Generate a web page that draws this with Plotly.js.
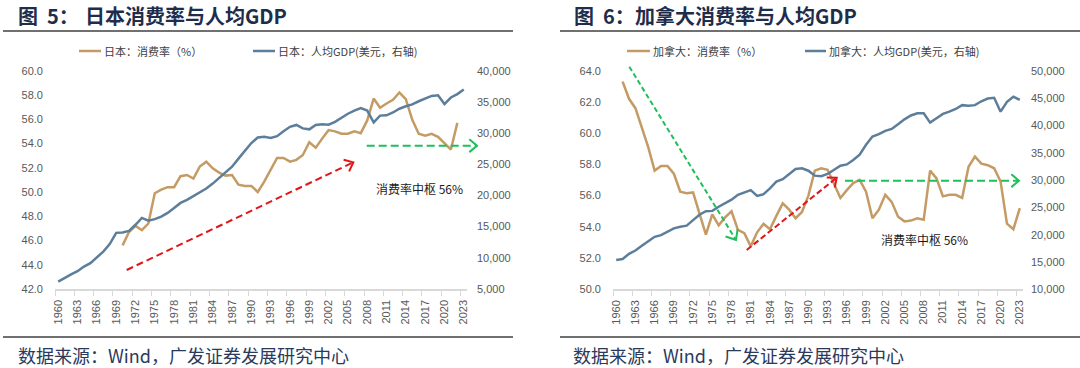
<!DOCTYPE html>
<html><head><meta charset="utf-8">
<script src="https://cdn.plot.ly/plotly-3.0.1.min.js"></script>
<style>html,body{margin:0;padding:0;background:#fff}#chart{width:1080px;height:368px}</style>
</head><body><div id="chart"></div>
<script>
// ---------- data ----------
const years = [1960,1961,1962,1963,1964,1965,1966,1967,1968,1969,1970,1971,1972,1973,1974,1975,1976,1977,1978,1979,1980,1981,1982,1983,1984,1985,1986,1987,1988,1989,1990,1991,1992,1993,1994,1995,1996,1997,1998,1999,2000,2001,2002,2003,2004,2005,2006,2007,2008,2009,2010,2011,2012,2013,2014,2015,2016,2017,2018,2019,2020,2021,2022,2023];
const tickYears = [1960,1963,1966,1969,1972,1975,1978,1981,1984,1987,1990,1993,1996,1999,2002,2005,2008,2011,2014,2017,2020,2023];
const tickBounds = [1959.5,1962.5,1965.5,1968.5,1971.5,1974.5,1977.5,1980.5,1983.5,1986.5,1989.5,1992.5,1995.5,1998.5,2001.5,2004.5,2007.5,2010.5,2013.5,2016.5,2019.5,2022.5];

// Japan: consumption rate (%), left axis
const jpRate = [null,null,null,null,null,null,null,null,null,null,
  45.6,46.7,47.2,46.85,47.4,49.9,50.2,50.4,50.4,51.3,
  51.4,51.1,52.1,52.5,51.95,51.6,51.35,51.4,50.6,50.5,
  50.5,50.0,50.85,51.8,52.8,52.8,52.5,52.65,53.05,54.1,
  53.65,54.4,55.1,55.0,54.8,54.8,55.0,54.85,55.9,57.7,
  56.95,57.3,57.6,58.2,57.65,55.95,54.8,54.65,54.8,54.55,
  54.0,53.5,55.7,null];
// Japan: GDP per capita (USD), right axis
const jpGdp = [6180,6800,7350,7850,8600,9150,10050,11000,12200,14000,
  14050,14300,15300,16400,15950,16200,16600,17200,18000,18800,
  19300,19900,20500,21100,21900,22800,23600,24600,25900,27100,
  28400,29300,29400,29200,29500,30300,31000,31300,30750,30600,
  31300,31400,31350,31800,32500,33100,33600,34000,33600,31700,
  32800,32850,33300,33900,34300,34600,35100,35500,35950,36050,
  34650,35700,36250,37000];

// Canada: consumption rate (%), left axis
const caRate = [null,
  63.3,62.2,61.6,60.3,59.1,57.6,57.9,57.9,57.4,
  56.25,56.15,56.2,54.85,53.5,54.8,54.1,54.6,55.0,53.8,
  53.6,52.75,53.65,54.2,53.85,54.7,55.5,55.1,54.55,54.95,
  56.0,57.6,57.75,57.65,56.7,55.85,56.35,56.8,57.0,56.25,
  54.55,55.1,56.05,55.6,54.65,54.35,54.4,54.55,54.45,57.6,
  57.1,55.95,56.05,56.05,55.85,57.85,58.5,58.05,57.95,57.75,
  56.9,54.2,53.85,55.2];
// Canada: GDP per capita (USD), right axis
const caGdp = [15350,15550,16500,17100,17950,18800,19600,19900,20450,21150,
  21450,21650,22650,23650,24300,24350,25100,25800,26400,27300,
  27700,28150,27100,27400,28450,29700,30150,31000,32000,32150,
  31700,30800,30700,31100,31900,32600,32850,33650,34650,36450,
  37950,38400,39000,39350,40200,41100,41800,42200,42200,40500,
  41300,42100,42500,43000,43700,43600,43700,44400,44900,45050,
  42500,44300,45250,44650];

const jpRateName = '日本：消费率（%）';
const jpGdpName = '日本：人均GDP(美元，右轴)';
const caRateName = '加拿大：消费率（%）';
const caGdpName = '加拿大：人均GDP(美元，右轴)';

// ---------- style ----------
const W = 1080, H = 368;
const P = x => x / W, Q = y => 1 - y / H;
const TAN = '#c49b64', BLUE = '#5d7e9b', RED = '#e0161b', GREEN = '#1fbf5a';
const NAVY = '#1f2d4a';
const CJK = 'Noto Sans CJK SC, sans-serif';
const NUM = 'Liberation Sans, Arial, sans-serif';
const tickFont = {family: NUM, size: 11, color: '#595959'};

const traces = [
  {x: years, y: jpRate, xaxis: 'x', yaxis: 'y', type: 'scatter', mode: 'lines', name: jpRateName,
   line: {color: TAN, width: 2.5}, connectgaps: false},
  {x: years, y: jpGdp, xaxis: 'x', yaxis: 'y2', type: 'scatter', mode: 'lines', name: jpGdpName,
   line: {color: BLUE, width: 2.5}},
  {x: years, y: caRate, xaxis: 'x2', yaxis: 'y3', type: 'scatter', mode: 'lines', name: caRateName,
   line: {color: TAN, width: 2.5}},
  {x: years, y: caGdp, xaxis: 'x2', yaxis: 'y4', type: 'scatter', mode: 'lines', name: caGdpName,
   line: {color: BLUE, width: 2.5}}
];

function xAxis(d0, d1, anchor) {
  return {domain: [P(d0), P(d1)], anchor: anchor, range: [1959.5, 2023.5], fixedrange: true,
    tickmode: 'array', tickvals: tickYears, ticktext: tickYears.map(String), tickangle: -90,
    ticks: '', showline: true, linecolor: '#d9d9d9', linewidth: 1.5, showgrid: false, zeroline: false,
    tickfont: tickFont, ticklabelstandoff: 5,
    minor: {tickmode: 'array', tickvals: tickBounds, ticks: 'outside', ticklen: 5, tickcolor: '#d9d9d9', tickwidth: 1, showgrid: false}};
}
function yAxis(top, bot, anchor, range, dtick, fmt, side, overlay, standoff) {
  const a = {anchor: anchor, range: range, dtick: dtick, tick0: range[0], tickformat: fmt, side: side,
    showline: false, showgrid: false, zeroline: false, ticks: '', tickfont: tickFont, fixedrange: true,
    ticklabelstandoff: standoff};
  if (overlay) a.overlaying = overlay; else a.domain = [Q(bot), Q(top)];
  return a;
}

const shapes = [];
const annotations = [];
function hline(x0, x1, y, color, w) {
  shapes.push({type: 'line', xref: 'paper', yref: 'paper', x0: P(x0), x1: P(x1), y0: Q(y), y1: Q(y),
    line: {color: color, width: w}});
}
function text(t, x, y, size, color, opts) {
  annotations.push(Object.assign({xref: 'paper', yref: 'paper', x: P(x), y: Q(y), text: t, showarrow: false,
    xanchor: 'left', yanchor: 'middle', font: {family: CJK, size: size, color: color}}, opts || {}));
}
// dashed line with an open "V" arrow head at its end (positions in page pixels)
function arrow(x0, y0, x1, y1, color, dash, w, headLen) {
  shapes.push({type: 'line', xref: 'paper', yref: 'paper', x0: P(x0), y0: Q(y0), x1: P(x1), y1: Q(y1),
    line: {color: color, width: w, dash: dash}});
  const dx = x1 - x0, dy = y1 - y0, L = Math.hypot(dx, dy);
  const ux = dx / L, uy = dy / L, th = 40 * Math.PI / 180, c = Math.cos(th), s = Math.sin(th);
  const ax = x1 - headLen * (ux * c - uy * s), ay = y1 - headLen * (ux * s + uy * c);
  const bx = x1 - headLen * (ux * c + uy * s), by = y1 - headLen * (-ux * s + uy * c);
  shapes.push({type: 'path', xref: 'paper', yref: 'paper',
    path: `M${P(ax)},${Q(ay)} L${P(x1)},${Q(y1)} L${P(bx)},${Q(by)}`,
    line: {color: color, width: w}, fillcolor: 'rgba(0,0,0,0)'});
}
function legendItem(x0, x1, y, color, label) {
  shapes.push({type: 'line', xref: 'paper', yref: 'paper', x0: P(x0), x1: P(x1), y0: Q(y), y1: Q(y),
    line: {color: color, width: 2.5}});
  text(label, x1 + 1, y, 11, '#404040');
}

// panel frames
hline(3, 513, 31, '#404040', 1.3);
hline(560, 1080, 31, '#404040', 1.3);
hline(3, 513, 337, '#404040', 1.3);
hline(560, 1080, 337, '#404040', 1.3);

// titles
const titleFont = 20;
text('<b>图</b>', 16, 15, titleFont, NAVY);
text('<b>5：</b>', 45, 15, titleFont, NAVY);
text('<b>日本消费率与人均GDP</b>', 83, 15, titleFont, NAVY);
text('<b>图</b>', 572, 15, titleFont, NAVY);
text('<b>6：</b>', 601, 15, titleFont, NAVY);
text('<b>加拿大消费率与人均GDP</b>', 633, 15, titleFont, NAVY);

// legends
legendItem(79, 101, 51, TAN, jpRateName);
legendItem(253, 275, 51, BLUE, jpGdpName);
legendItem(627, 650, 51, TAN, caRateName);
legendItem(805, 826, 51, BLUE, caGdpName);

// footers
text('数据来源：Wind，广发证券发展研究中心', 16, 355, 18, '#2a3a5c');
text('数据来源：Wind，广发证券发展研究中心', 571, 355, 18, '#2a3a5c');

// annotations inside charts
arrow(126.7, 270, 353.3, 162.3, RED, '7px,4px', 2, 10);
arrow(366.7, 145.7, 477, 145.7, GREEN, '8px,4px', 2, 10);
text('消费率中枢 56%', 419, 188.5, 12, '#1a1a1a', {xanchor: 'center'});

arrow(629.3, 66.7, 736, 240, GREEN, '5px,3px', 2, 11);
arrow(746.7, 250, 836.7, 177.7, RED, '6px,3px', 2, 10);
arrow(845, 180.7, 1019, 180.7, GREEN, '8px,4px', 2, 10);
text('消费率中枢 56%', 924, 239.5, 12, '#1a1a1a', {xanchor: 'center'});

const layout = {
  width: W, height: H, margin: {l: 0, r: 0, t: 0, b: 0}, paper_bgcolor: '#fff', plot_bgcolor: 'rgba(0,0,0,0)',
  showlegend: false, font: {family: NUM, size: 11, color: '#595959'},
  xaxis: xAxis(55, 467, 'y'),
  yaxis: yAxis(70.7, 289, 'x', [42, 60], 2, '.1f', 'left', null, 11),
  yaxis2: yAxis(70.7, 289, 'x', [5000, 40000], 5000, ',', 'right', 'y', 9),
  xaxis2: xAxis(613, 1023, 'y3'),
  yaxis3: yAxis(70.7, 289.3, 'x2', [50, 64], 2, '.1f', 'left', null, 11),
  yaxis4: yAxis(70.7, 289.3, 'x2', [10000, 50000], 5000, ',', 'right', 'y3', 7),
  shapes: shapes, annotations: annotations
};

Plotly.newPlot('chart', traces, layout, {staticPlot: true, displayModeBar: false});
</script></body></html>
